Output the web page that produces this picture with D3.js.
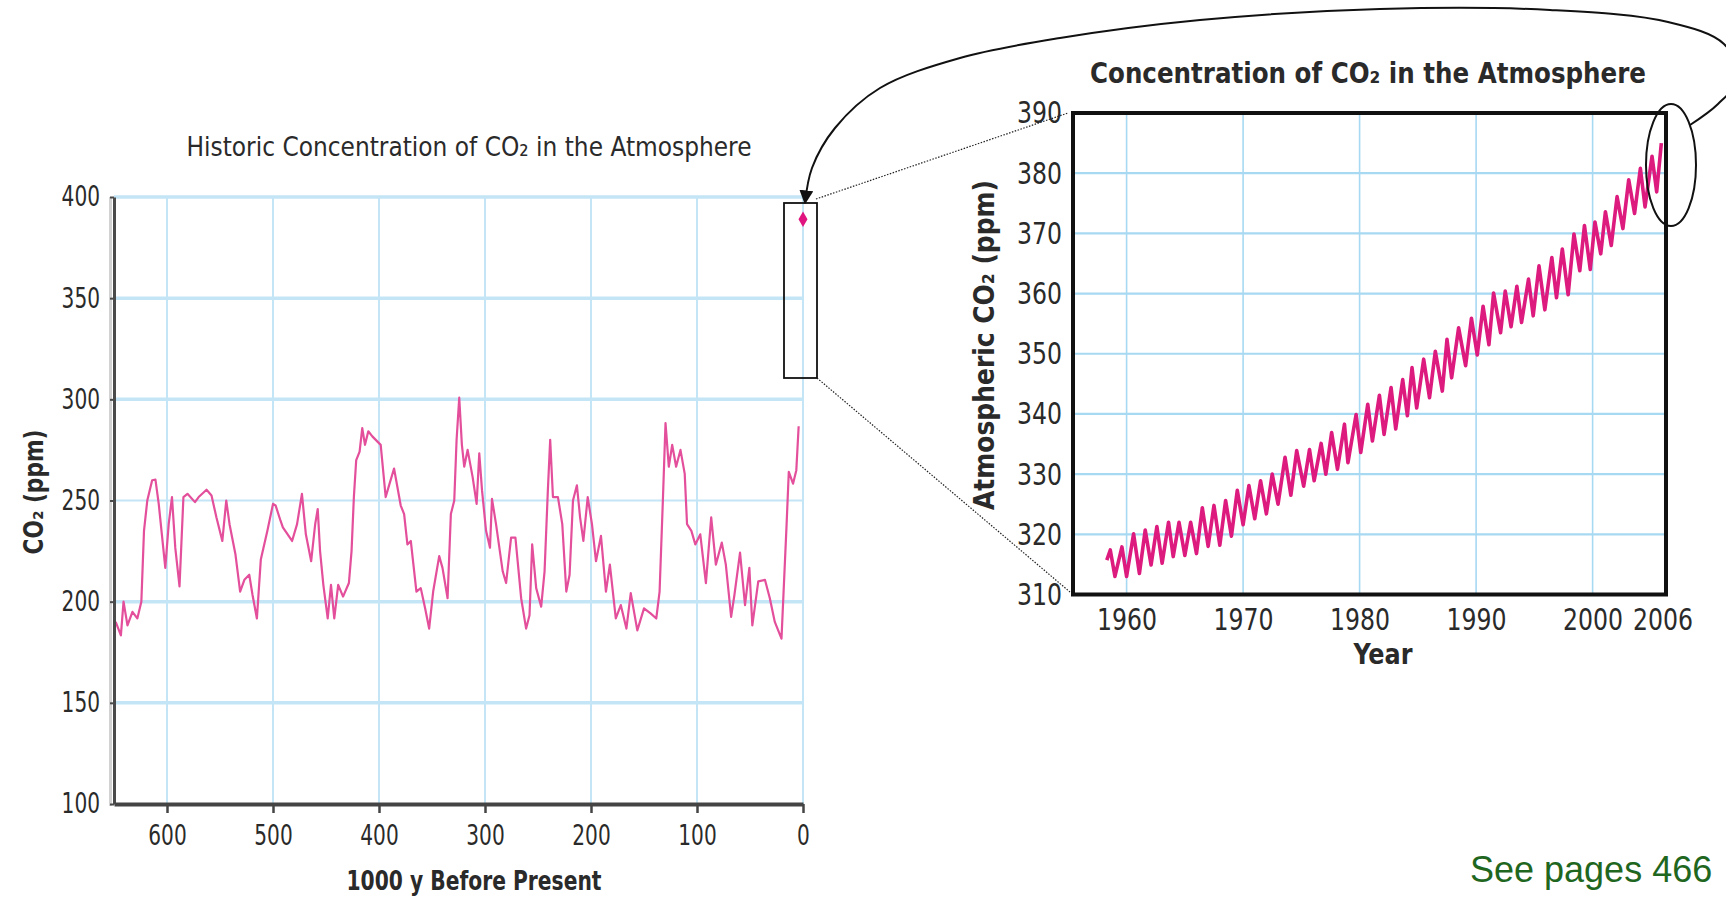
<!DOCTYPE html>
<html>
<head>
<meta charset="utf-8">
<script src="https://cdn.jsdelivr.net/npm/d3@7"></script>
<style>
  body { margin: 0; background: #fff; }
  text { font-family: "Liberation Sans Narrow", "DejaVu Sans Condensed", "Arial Narrow", sans-serif; fill: #2a2a2a; }
</style>
</head>
<body>
<svg id="chart" width="1726" height="897"></svg>
<script>
// ice core record, thousands of years before present
var histAge = [648.4,643.5,641,637.3,632.6,628,624.2,621.7,618.6,614,610.9,607.8,601.6,598.4,595.3,592.2,588.2,584.5,580.7,573.6,569.6,562.7,558,553.4,547.8,544.1,541,535.4,531,527,522.4,519.3,515.2,511.5,505.3,500,497.5,492.9,490.7,482,477.3,472.7,469,464,460.2,457.8,455.6,452.5,448.4,445.3,442.2,438.5,433.9,428.4,425.9,423.7,421.5,418.3,415.8,413.2,410.1,406.3,398.4,393.7,390.5,385.8,379.5,376.3,373.2,370,364.7,360.6,356.5,352.7,348.9,343.2,340.1,335.3,332.2,329,326.8,324.3,321.8,319.6,316.4,311.7,307.9,305.4,302.8,299,295.3,293.4,289.6,283.3,280.1,275.4,271.3,265.9,261.2,258,255.5,251.7,247,243.8,240.7,238.5,235.9,231.2,227.1,223.3,220.2,217,213.3,210.3,207.2,203.1,199.1,195.3,190.6,185.9,182.2,176.6,171.9,166.6,162.5,156.3,150,143.8,138.4,135.3,132.2,129.7,126.6,123.4,119.7,115.6,111.6,109.4,105.3,101.6,96.9,91.6,86.6,82.2,76.6,72.8,67.8,64.7,59.4,54.7,50.6,47.8,42.2,35.9,31.3,26.6,20.3,15.6,13.4,9.4,6.3,4.1];
var histCO2 = [190,183.3,200,188.3,195,191.7,200,235,250,260,260.3,248.3,216.7,238.3,251.7,226.7,207.5,251.7,253.3,249.2,252,255.3,252.5,241.7,230,250,238.3,223.3,205,210.8,213.3,203.3,191.7,220.8,235,248.3,247.5,240,236.7,230,238.3,253.3,233.3,220,238.3,245.8,225,208.3,191.7,208.3,191.7,208.3,202.5,209.2,225,251.7,270,274.2,285.8,277.5,284.2,281.7,277.5,251.7,257.5,265.8,247.5,243.3,228.3,230,205,206.7,196.7,186.7,205,222.5,216.7,201.7,243.3,250,280,300.8,277.5,266.7,275,261.7,248.3,273.3,255,235,226.7,250.8,238.3,215,209.2,231.7,231.7,201.7,186.7,193.3,228.3,206.7,197.5,215,255,280,251.7,251.7,238.3,205,213.3,250,257.5,241.7,230,251.7,238.3,220,232.5,205,218.3,191.7,198.3,186.7,204.2,185.8,196.7,194.2,191.7,205,250,288.3,266.7,277.5,266.7,275,263.3,238.3,235,228.3,233.3,209.2,241.7,218.3,229.2,218.3,192.5,203.3,224.2,198.3,216.7,188.3,210,210.8,201.7,190,181.7,236.7,264.2,258.3,265,286.7];
var modernAge = [0];
var modernCO2 = [389];
var histYTicks = [100,150,200,250,300,350,400];
var histXTicks = [600,500,400,300,200,100,0];

// Mauna Loa record, seasonal highs and lows
var keelingYear = [1958.3,1958.6,1959.0,1959.6,1960.0,1960.6,1961.1,1961.6,1962.1,1962.6,1963.05,1963.6,1964.0,1964.5,1965.0,1965.5,1966.0,1966.5,1967.0,1967.5,1968.0,1968.5,1969.0,1969.5,1970.0,1970.5,1971.0,1971.5,1972.0,1972.5,1973.0,1973.6,1974.1,1974.6,1975.2,1975.7,1976.1,1976.7,1977.1,1977.6,1978.1,1978.7,1979.0,1979.7,1980.1,1980.7,1981.1,1981.7,1982.1,1982.7,1983.1,1983.7,1984.1,1984.5,1984.9,1985.5,1986.0,1986.5,1987.1,1987.5,1987.9,1988.5,1989.1,1989.6,1990.1,1990.6,1991.1,1991.5,1992.1,1992.5,1993.0,1993.5,1993.9,1994.5,1994.9,1995.4,1995.9,1996.5,1996.9,1997.4,1997.9,1998.4,1998.9,1999.3,1999.8,2000.2,2000.7,2001.1,2001.6,2002.1,2002.6,2003.1,2003.6,2004.1,2004.5,2005.1,2005.5,2005.9];
var keelingCO2 = [315.7,317.4,313,317.9,313,320.1,313.5,320.7,314.9,321.3,315.2,322,316.3,322,316.5,322,316.8,324.4,318,324.8,318.2,325.6,319.7,327.3,321.6,328.1,322.6,328.9,323.4,330,325,332.8,326.5,333.9,328,334.1,328.9,335.1,330,336.9,330.8,338.3,331.9,339.9,333.6,341.6,335.5,343.1,336.6,344.4,337.5,345.7,339.7,347.7,341,349.1,342.7,350.4,343.8,352.4,346,354.3,348,355.9,349.8,357.9,351.5,360.1,353.5,360.4,354.5,361.2,355.2,362.4,356.3,364.6,357.3,366,359.3,367.4,359.8,369.9,363.8,371.3,364,371.9,366.6,373.6,368,376.1,370.8,378.9,373.3,380.8,374.4,382.8,376.9,385];
var keelingYTicks = [310,320,330,340,350,360,370,380,390];
var keelingXTicks = [1960,1970,1980,1990,2000,2006];
var keelingGridX = [1960,1970,1980,1990,2000];

var svg = d3.select("#chart");
svg.append("rect").attr("width", 1726).attr("height", 897).attr("fill", "#fff");

var gridBlue = "#c4e5f5";
var magenta = "#dd1a7e";

// squeeze a label to a given width (the source uses a condensed face)
function squeeze(sel, width) {
  sel.attr("textLength", width).attr("lengthAdjust", "spacingAndGlyphs");
  return sel;
}

// ---------- left: historic record ----------
var xL = d3.scaleLinear().domain([650, 0]).range([114, 803]);
var yL = d3.scaleLinear().domain([100, 400]).range([804, 197]);

var left = svg.append("g");

left.selectAll("line.hgrid")
  .data(histYTicks.filter(function(d) { return d > 100; }))
  .enter().append("line")
  .attr("x1", xL(650)).attr("x2", xL(0))
  .attr("y1", function(d) { return yL(d); }).attr("y2", function(d) { return yL(d); })
  .attr("stroke", gridBlue)
  .attr("stroke-width", function(d) { return d == 250 ? 2 : 3.5; });

left.selectAll("line.vgrid")
  .data(histXTicks)
  .enter().append("line")
  .attr("x1", function(d) { return xL(d); }).attr("x2", function(d) { return xL(d); })
  .attr("y1", yL(400)).attr("y2", yL(100))
  .attr("stroke", gridBlue).attr("stroke-width", 2);

var histLine = d3.line()
  .x(function(d) { return xL(d[0]); })
  .y(function(d) { return yL(d[1]); });

left.append("path")
  .datum(d3.zip(histAge, histCO2))
  .attr("d", histLine)
  .attr("fill", "none")
  .attr("stroke", "#e44f9c")
  .attr("stroke-width", 2.2)
  .attr("stroke-linejoin", "round");

left.selectAll("path.now")
  .data(d3.zip(modernAge, modernCO2))
  .enter().append("path")
  .attr("transform", function(d) { return "translate(" + xL(d[0]) + "," + yL(d[1]) + ")"; })
  .attr("d", d3.symbol().type(d3.symbolDiamond).size(70))
  .attr("fill", "#e0157f");

// left axis shadow + axes
left.append("line").attr("x1", 110.5).attr("x2", 110.5).attr("y1", 197).attr("y2", 806)
  .attr("stroke", "#d2d2d2").attr("stroke-width", 3);

var axL = left.append("g").attr("transform", "translate(" + xL(650) + ",0)")
  .call(d3.axisLeft(yL).tickValues(histYTicks).tickSize(4).tickSizeOuter(0).tickPadding(10));
var axB = left.append("g").attr("transform", "translate(0," + yL(100) + ")")
  .call(d3.axisBottom(xL).tickValues(histXTicks).tickSize(9).tickSizeOuter(0).tickPadding(12));

axL.select(".domain").attr("stroke", "#4a4a4a").attr("stroke-width", 3);
axB.select(".domain").attr("stroke", "#444").attr("stroke-width", 4);
axL.selectAll(".tick line").attr("stroke", "#4a4a4a").attr("stroke-width", 2);
axB.selectAll(".tick line").attr("stroke", "#444").attr("stroke-width", 2.5);
[axL, axB].forEach(function(a) {
  a.attr("font-family", null).attr("font-size", 28);
  a.selectAll("text").attr("fill", "#333").each(function() {
    squeeze(d3.select(this), this.textContent.length * 12.8);
  });
});

squeeze(left.append("text").attr("x", 469).attr("y", 156).attr("text-anchor", "middle")
  .attr("font-size", 27).attr("fill", "#222")
  .text("Historic Concentration of CO\u2082 in the Atmosphere"), 565);

squeeze(left.append("text").attr("x", 474).attr("y", 890).attr("text-anchor", "middle")
  .attr("font-size", 27).attr("font-weight", "bold").attr("fill", "#2a2a2a")
  .text("1000 y Before Present"), 255);

squeeze(left.append("text").attr("transform", "translate(43,492) rotate(-90)")
  .attr("text-anchor", "middle").attr("font-size", 26).attr("font-weight", "bold")
  .text("CO\u2082 (ppm)"), 125);

// ---------- right: Mauna Loa record ----------
var xR = d3.scaleLinear().domain([1955.4, 2006.3]).range([1073, 1666]);
var yR = d3.scaleLinear().domain([310, 390]).range([594.5, 113]);

var right = svg.append("g");

right.selectAll("line.hgrid")
  .data(keelingYTicks.filter(function(d) { return d > 310 && d < 390; }))
  .enter().append("line")
  .attr("x1", xR.range()[0]).attr("x2", xR.range()[1])
  .attr("y1", function(d) { return yR(d); }).attr("y2", function(d) { return yR(d); })
  .attr("stroke", "#a8d9f2").attr("stroke-width", 2.2);

right.selectAll("line.vgrid")
  .data(keelingGridX)
  .enter().append("line")
  .attr("x1", function(d) { return xR(d); }).attr("x2", function(d) { return xR(d); })
  .attr("y1", yR(390)).attr("y2", yR(310))
  .attr("stroke", "#a8d9f2").attr("stroke-width", 1.6);

var keelingLine = d3.line()
  .x(function(d) { return xR(d[0]); })
  .y(function(d) { return yR(d[1]); });

right.append("path")
  .datum(d3.zip(keelingYear, keelingCO2))
  .attr("d", keelingLine)
  .attr("fill", "none")
  .attr("stroke", magenta)
  .attr("stroke-width", 3.6)
  .attr("stroke-linejoin", "round");

right.append("rect")
  .attr("x", xR.range()[0]).attr("y", yR(390))
  .attr("width", xR.range()[1] - xR.range()[0]).attr("height", yR(310) - yR(390))
  .attr("fill", "none").attr("stroke", "#111").attr("stroke-width", 4);

var axRL = right.append("g").attr("transform", "translate(" + xR.range()[0] + ",0)")
  .call(d3.axisLeft(yR).tickValues(keelingYTicks).tickSize(0).tickPadding(11));
var axRB = right.append("g").attr("transform", "translate(0," + yR(310) + ")")
  .call(d3.axisBottom(xR).tickValues(keelingXTicks).tickFormat(d3.format("d")).tickSize(0).tickPadding(13));
[axRL, axRB].forEach(function(a) {
  a.select(".domain").remove();
  a.attr("font-family", null).attr("font-size", 31);
  a.selectAll("text").attr("fill", "#222").each(function() {
    squeeze(d3.select(this), this.textContent.length * 15);
  });
});

squeeze(right.append("text").attr("x", 1368).attr("y", 83).attr("text-anchor", "middle")
  .attr("font-size", 28).attr("font-weight", "bold")
  .text("Concentration of CO\u2082 in the Atmosphere"), 556);

squeeze(right.append("text").attr("x", 1383).attr("y", 664).attr("text-anchor", "middle")
  .attr("font-size", 29).attr("font-weight", "bold").text("Year"), 59);

squeeze(right.append("text").attr("transform", "translate(994,345) rotate(-90)")
  .attr("text-anchor", "middle").attr("font-size", 28).attr("font-weight", "bold")
  .text("Atmospheric CO\u2082 (ppm)"), 330);

// ---------- zoom annotations ----------
var ann = svg.append("g");
ann.append("rect").attr("x", 784).attr("y", 203).attr("width", 33).attr("height", 175)
  .attr("fill", "none").attr("stroke", "#111").attr("stroke-width", 1.8);

ann.append("line").attr("x1", 816).attr("y1", 199).attr("x2", 1068).attr("y2", 113)
  .attr("stroke", "#222").attr("stroke-width", 1.2).attr("stroke-dasharray", "1.5,1.5");
ann.append("line").attr("x1", 817).attr("y1", 378).attr("x2", 1070).attr("y2", 592)
  .attr("stroke", "#222").attr("stroke-width", 1.2).attr("stroke-dasharray", "1.5,1.5");

ann.append("ellipse").attr("cx", 1671).attr("cy", 165).attr("rx", 25).attr("ry", 61)
  .attr("fill", "none").attr("stroke", "#111").attr("stroke-width", 2);

svg.append("defs").append("marker")
  .attr("id", "head").attr("viewBox", "0 0 10 10").attr("refX", 9).attr("refY", 5)
  .attr("markerWidth", 7).attr("markerHeight", 7).attr("orient", "auto")
  .append("path").attr("d", "M0,0 L10,5 L0,10 z").attr("fill", "#111");

var swoop = [[1690,125],[1718,104],[1738,78],[1724,44],[1668,22],[1550,10],[1380,9],[1200,20],[1060,38],[960,58],[880,88],[835,128],[812,168],[805,203]];
ann.append("path")
  .attr("d", d3.line().curve(d3.curveCatmullRom.alpha(0.5))(swoop))
  .attr("fill", "none").attr("stroke", "#111").attr("stroke-width", 2)
  .attr("marker-end", "url(#head)");

svg.append("text").attr("x", 1470).attr("y", 882)
  .attr("font-size", 36)
  .style("fill", "#1f661f").style("font-family", "'Liberation Sans', Arial, sans-serif")
  .text("See pages 466");
</script>
</body>
</html>
